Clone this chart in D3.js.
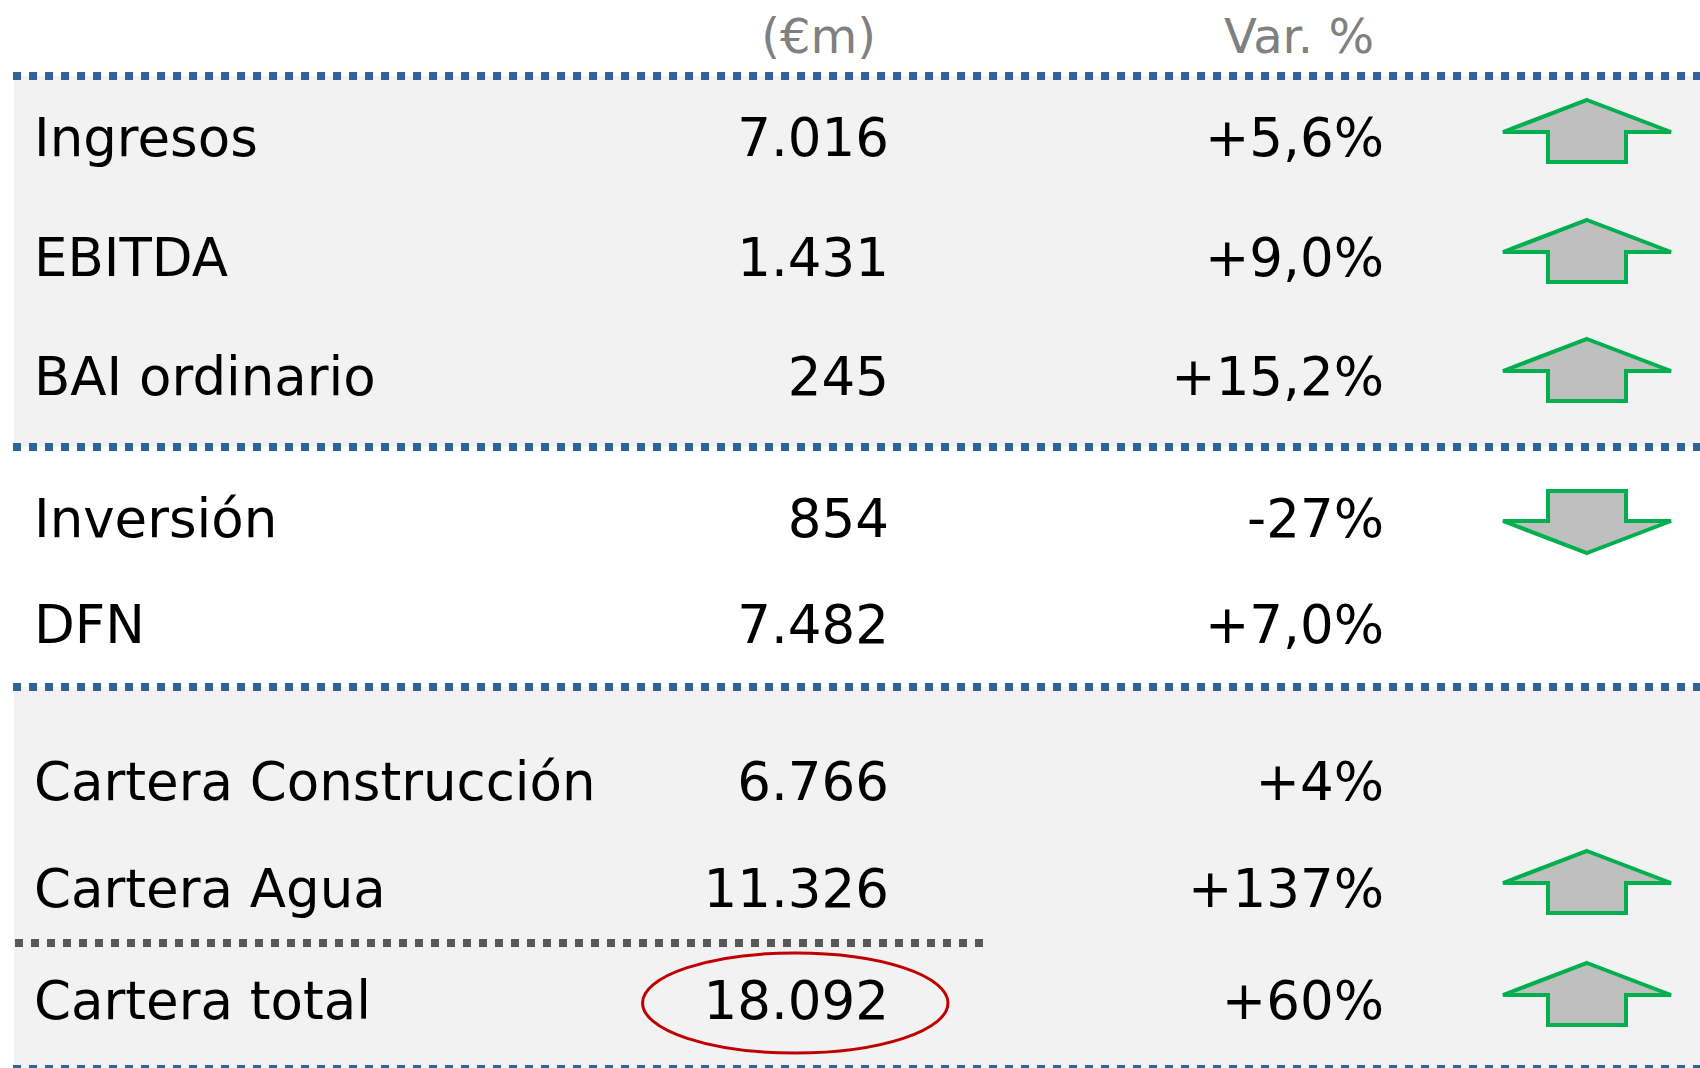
<!DOCTYPE html>
<html>
<head>
<meta charset="utf-8">
<script src="https://cdn.jsdelivr.net/npm/d3@7"></script>
<style>
  html, body { margin: 0; padding: 0; background: #fff; }
  svg { display: block; font-family: "DejaVu Sans", Verdana, sans-serif; }
</style>
</head>
<body>
<svg width="1700" height="1068"></svg>
<script>
// --- data ---
const labels = ["Ingresos", "EBITDA", "BAI ordinario", "Inversión", "DFN",
                "Cartera Construcción", "Cartera Agua", "Cartera total"];
const values = [7016, 1431, 245, 854, 7482, 6766, 11326, 18092];
const changes = [5.6, 9.0, 15.2, -27, 7.0, 4, 137, 60];
const changeDecimals = [1, 1, 1, 0, 1, 0, 0, 0];
const trends = ["up", "up", "up", "down", null, null, "up", "up"];
const sections = [0, 0, 0, 1, 1, 2, 2, 2];
const headers = ["(€m)", "Var. %"];
const highlighted = ["Cartera total"];
const subtotalBefore = ["Cartera total"];

// --- layout ---
const width = 1700, height = 1068;
const fontSize = 53;
const blue = "#31639b", band = "#f2f2f2", green = "#00b050";

const es = d3.formatLocale({ decimal: ",", thousands: ".", grouping: [3], currency: ["€", ""], minus: "-" });

const rows = labels.map((label, i) => ({
  label,
  value: values[i],
  change: changes[i],
  changeText: es.format("+." + changeDecimals[i] + "f")(changes[i]) + "%",
  trend: trends[i],
  section: sections[i]
}));

// baseline of each row
const yRow = d3.scaleOrdinal()
  .domain(labels)
  .range([156, 276, 395, 537, 643, 800, 907, 1019]);

// column anchors
const xCol = d3.scaleOrdinal()
  .domain(["label", "value", "change", "arrow"])
  .range([34, 889, 1384, 1587]);

// section boundaries (dotted separators)
const sectionEdges = [76, 447, 687, 1069];
const sectionFill = [band, "#fff", band];

const svg = d3.select("svg");

// section backgrounds
svg.append("g")
  .selectAll("rect")
  .data(sectionFill)
  .join("rect")
  .attr("x", 14)
  .attr("y", (d, i) => sectionEdges[i])
  .attr("width", width - 14)
  .attr("height", (d, i) => sectionEdges[i + 1] - sectionEdges[i])
  .attr("fill", d => d);

// dotted separators
svg.append("g")
  .selectAll("line")
  .data(sectionEdges)
  .join("line")
  .attr("x1", 13)
  .attr("x2", width)
  .attr("y1", d => d)
  .attr("y2", d => d)
  .attr("stroke", blue)
  .attr("stroke-width", 8)
  .attr("stroke-dasharray", "8,8");

// subtotal separator
svg.append("g")
  .selectAll("line")
  .data(subtotalBefore)
  .join("line")
  .attr("x1", 15)
  .attr("x2", 983)
  .attr("y1", d => yRow(d) - 76)
  .attr("y2", d => yRow(d) - 76)
  .attr("stroke", "#595959")
  .attr("stroke-width", 8)
  .attr("stroke-dasharray", "8,8");

// headers
svg.append("g")
  .selectAll("text")
  .data(headers)
  .join("text")
  .attr("x", (d, i) => i === 0 ? xCol("value") - 13 : xCol("change") - 10)
  .attr("y", 53)
  .attr("text-anchor", "end")
  .attr("font-size", 48)
  .attr("fill", "#808080")
  .text(d => d);

const rowG = svg.append("g")
  .selectAll("g")
  .data(rows)
  .join("g");

rowG.append("text")
  .attr("x", xCol("label"))
  .attr("y", d => yRow(d.label))
  .attr("font-size", fontSize)
  .attr("fill", "#000")
  .text(d => d.label);

rowG.append("text")
  .attr("class", "value")
  .attr("x", xCol("value"))
  .attr("y", d => yRow(d.label))
  .attr("text-anchor", "end")
  .attr("font-size", fontSize)
  .attr("fill", "#000")
  .text(d => es.format(",d")(d.value));

rowG.append("text")
  .attr("x", xCol("change"))
  .attr("y", d => yRow(d.label))
  .attr("text-anchor", "end")
  .attr("font-size", fontSize)
  .attr("fill", "#000")
  .text(d => d.changeText);

// highlight ellipse around value
rowG.filter(d => highlighted.includes(d.label))
  .each(function(d) {
    const t = d3.select(this).select("text.value").node().getBBox();
    d3.select(this).append("ellipse")
      .attr("cx", t.x + t.width / 2 - 1)
      .attr("cy", yRow(d.label) - 16)
      .attr("rx", t.width / 2 + 60)
      .attr("ry", 50)
      .attr("fill", "none")
      .attr("stroke", "#c00000")
      .attr("stroke-width", 3);
  });

// block arrows
const arrowW = 168, arrowH = 62, stemW = 78, headH = 32;
function arrowPath(dir) {
  const s = dir === "up" ? 1 : -1;
  const top = -s * arrowH / 2, wing = top + s * headH, bot = s * arrowH / 2;
  return d3.line()([
    [0, top], [arrowW / 2, wing], [stemW / 2, wing], [stemW / 2, bot],
    [-stemW / 2, bot], [-stemW / 2, wing], [-arrowW / 2, wing]
  ]) + "Z";
}

rowG.filter(d => d.trend)
  .append("path")
  .attr("transform", d => `translate(${xCol("arrow")},${yRow(d.label) + (d.trend === "up" ? -25 : -15)})`)
  .attr("d", d => arrowPath(d.trend))
  .attr("fill", "#bfbfbf")
  .attr("stroke", green)
  .attr("stroke-width", 4)
  .attr("stroke-linejoin", "miter");
</script>
</body>
</html>
